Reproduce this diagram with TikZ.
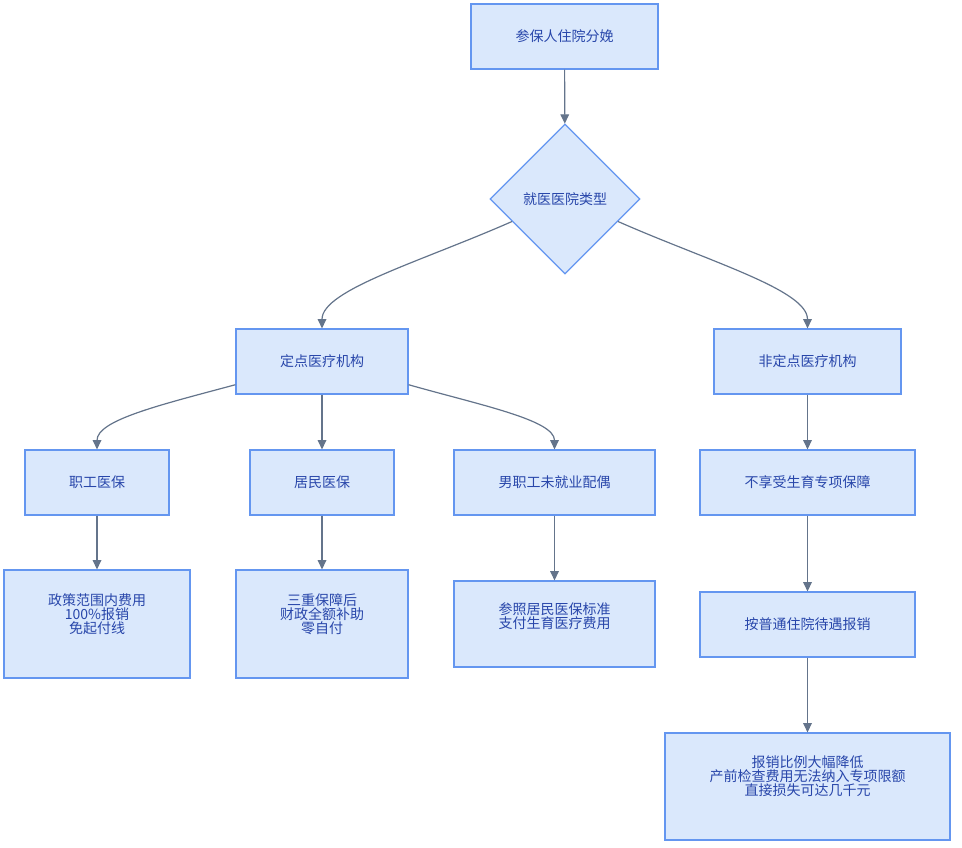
\documentclass[tikz,border=0pt]{standalone}
\usepackage{fontspec}
\setmainfont{Noto Sans CJK SC}
\usetikzlibrary{shapes.geometric,arrows.meta}
\definecolor{boxfill}{HTML}{DAE8FC}
\definecolor{boxline}{RGB}{100,150,240}
\definecolor{boxtext}{RGB}{40,70,170}
\definecolor{edgegray}{RGB}{100,116,139}

\begin{document}
\begin{tikzpicture}[x=0.75pt, y=-0.75pt,
    box/.style={draw=boxline, fill=boxfill, text=boxtext, line width=0.9pt,
      inner sep=0pt, align=center, minimum height=48.75pt,
      font=\fontsize{10.5}{10.5}\selectfont},
    choice/.style={box, diamond, aspect=1, minimum size=112.5pt},
    txt/.style={text=boxtext, align=center, inner sep=0pt,
      font=\fontsize{10.5}{10.5}\selectfont},
    edge/.style={draw=edgegray, line width=0.9pt,
      -{Triangle[length=7pt,width=6.5pt]}}]
  \useasboundingbox (0,0) rectangle (962,847);

  % Top and decision
  \node[box, minimum width=140.25pt] (start) at (564.5,36.5) {参保人住院分娩};
  \node[choice] (dia) at (565,199) {就医医院类型};

  % Hospital types
  \node[box, minimum width=129pt] (ding) at (322,361.5) {定点医疗机构};
  \node[box, minimum width=140.25pt] (fei) at (807.5,361.5) {非定点医疗机构};

  % Insurance types
  \node[box, minimum width=108pt] (zhigong) at (97,482.5) {职工医保};
  \node[box, minimum width=108pt] (jumin) at (322,482.5) {居民医保};
  \node[box, minimum width=150.75pt] (nan) at (554.5,482.5) {男职工未就业配偶};
  \node[box, minimum width=161.25pt] (buxiang) at (807.5,482.5) {不享受生育专项保障};

  % Outcomes
  \node[box, minimum width=139.5pt, minimum height=81pt,
    label={[txt, yshift=7.5pt]center:{政策范围内费用\\100\%报销\\免起付线}}] (zgres) at (97,624) {};
  \node[box, minimum width=129pt, minimum height=81pt,
    label={[txt, yshift=7.5pt]center:{三重保障后\\财政全额补助\\零自付}}] (jmres) at (322,624) {};
  \node[box, minimum width=150.75pt, minimum height=64.5pt,
    label={[txt, yshift=6pt]center:{参照居民医保标准\\支付生育医疗费用}}] (nanres) at (554.5,624) {};
  \node[box, minimum width=161.25pt] (anpu) at (807.5,624.5) {按普通住院待遇报销};
  \node[box, minimum width=213.75pt, minimum height=80.25pt,
    label={[txt, yshift=7.9pt]center:{报销比例大幅降低\\产前检查费用无法纳入专项限额\\直接损失可达几千元}}] (loss) at (807.5,786.5) {};

  % Connectors
  \draw[edge] (start) -- (dia);
  \draw[edge] (dia.203) .. controls (420,262) and (322,290) .. (ding.north);
  \draw[edge] (dia.-23) .. controls (710,262) and (807.5,290) .. (fei.north);
  \draw[edge] (ding.195) .. controls (160,405) and (97,420) .. (zhigong.north);
  \draw[edge] (ding) -- (jumin);
  \draw[edge] (ding.-15) .. controls (480,405) and (554.5,420) .. (nan.north);
  \draw[edge] (fei) -- (buxiang);
  \draw[edge] (zhigong) -- (zgres);
  \draw[edge] (jumin) -- (jmres);
  \draw[edge] (nan) -- (nanres);
  \draw[edge] (buxiang) -- (anpu);
  \draw[edge] (anpu) -- (loss);
\end{tikzpicture}
\end{document}
